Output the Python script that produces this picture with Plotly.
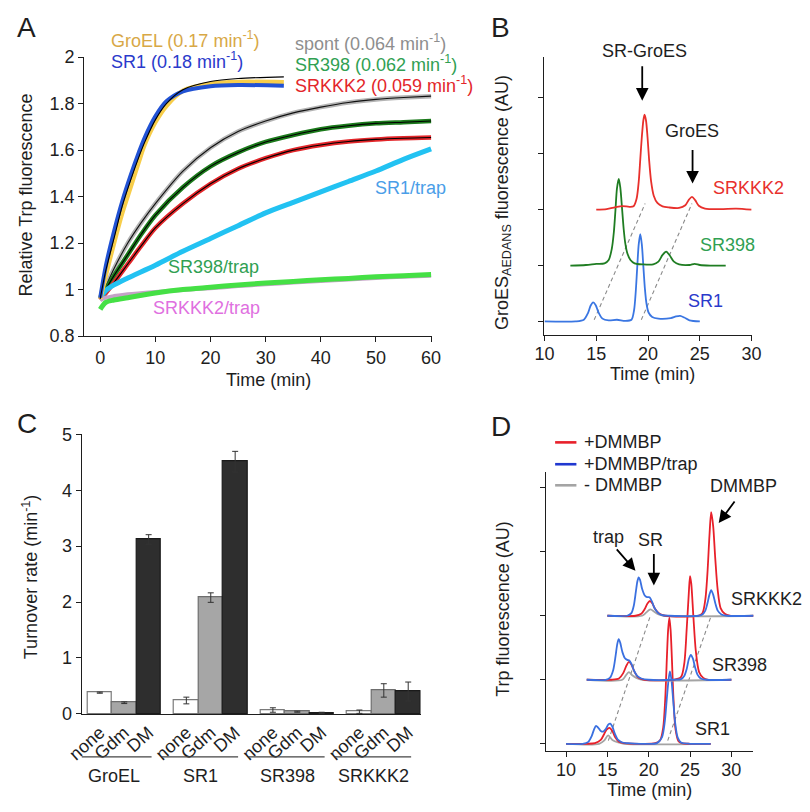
import numpy as np
import plotly.graph_objects as go

W, H = 810, 812
FONT = "Liberation Sans, Arial, sans-serif"
FS = 18


def px(x):
    return x / W


def py(y):
    return 1 - y / H


# ---------------- Panel A data ----------------
T_FAST = [0, 1, 2.5, 4, 5.5, 7, 8, 10, 12, 15, 20, 25, 33.3]
GROEL = [0.96, 1.06, 1.20, 1.33, 1.44, 1.55, 1.62, 1.72, 1.79, 1.855, 1.885, 1.893, 1.892]
SR1 = [0.965, 1.10, 1.25, 1.38, 1.49, 1.59, 1.65, 1.745, 1.81, 1.853, 1.875, 1.88, 1.877]
FIT_FAST = [0.96, 1.08, 1.22, 1.36, 1.47, 1.57, 1.63, 1.73, 1.80, 1.86, 1.895, 1.908, 1.915]

T_SLOW = [0, 2.5, 5, 7.5, 10, 15, 20, 25, 30, 35, 40, 45, 50, 55, 60]
SPONT = [0.96, 1.09, 1.20, 1.29, 1.37, 1.51, 1.61, 1.68, 1.725, 1.76, 1.785, 1.805, 1.818, 1.826, 1.832]
SR398 = [0.96, 1.06, 1.15, 1.24, 1.32, 1.44, 1.53, 1.59, 1.635, 1.665, 1.69, 1.705, 1.715, 1.72, 1.725]
SRKKK2 = [0.955, 1.03, 1.11, 1.19, 1.265, 1.37, 1.455, 1.52, 1.565, 1.60, 1.622, 1.637, 1.646, 1.651, 1.654]

T_TRAP = [0, 1, 2.5, 5, 10, 15, 20, 25, 30, 35, 40, 45, 50, 55, 60]
SR1_TRAP = [0.965, 0.995, 1.02, 1.05, 1.105, 1.165, 1.22, 1.275, 1.33, 1.375, 1.42, 1.465, 1.51, 1.56, 1.605]
SR398_TRAP = [0.915, 0.945, 0.955, 0.965, 0.985, 1.0, 1.01, 1.02, 1.028, 1.035, 1.042, 1.048, 1.055, 1.06, 1.065]
SRKKK2_TRAP = [0.955, 0.965, 0.972, 0.98, 0.99, 0.998, 1.006, 1.015, 1.023, 1.03, 1.037, 1.043, 1.05, 1.055, 1.06]

A_YTICKS = [0.8, 1.0, 1.2, 1.4, 1.6, 1.8, 2.0]
A_YTICKTEXT = ["0.8", "1", "1.2", "1.4", "1.6", "1.8", "2"]
A_XTICKS = [0, 10, 20, 30, 40, 50, 60]

# ---------------- Panel B data (GroES-AEDANS chromatograms) ----------------
B_SR1_T = [10, 13.0, 13.8, 14.2, 14.45, 14.7, 14.95, 15.2, 15.6, 16.2, 17.0, 17.8, 18.4, 18.65, 18.8, 18.95,
           19.1, 19.25, 19.4, 19.55, 19.7, 19.85, 20.05, 20.4, 21.0, 22.2, 22.7, 23.1, 23.5, 24.0, 25.0]
B_SR1_Y = [0, 0, 0.03, 0.15, 0.28, 0.34, 0.29, 0.17, 0.05, 0.02, 0.03, 0.01, 0.03, 0.2, 0.5, 0.95,
           1.38, 1.56, 1.38, 0.98, 0.58, 0.32, 0.16, 0.08, 0.05, 0.06, 0.09, 0.10, 0.07, 0.02, 0]
B_SR398_T = [12.5, 14, 15, 15.8, 16.2, 16.5, 16.7, 16.85, 17.0, 17.17, 17.32, 17.5, 17.65, 17.8, 18.0, 18.3,
             18.7, 19.5, 20.5, 21.0, 21.4, 21.75, 22.1, 22.5, 23.0, 24.0, 24.5, 25.0, 26, 27.5]
B_SR398_Y = [0, 0.01, 0.03, 0.04, 0.1, 0.3, 0.6, 0.98, 1.38, 1.55, 1.4, 1.0, 0.65, 0.4, 0.22, 0.1,
             0.04, 0.02, 0.02, 0.07, 0.19, 0.25, 0.18, 0.07, 0.02, 0.01, 0.03, 0.01, 0, 0]
B_SRKKK2_T = [15, 16, 16.8, 17.5, 18.2, 18.6, 18.9, 19.1, 19.25, 19.4, 19.55, 19.66, 19.8, 19.95, 20.1, 20.3,
              20.55, 20.9, 21.4, 22, 23, 23.6, 23.95, 24.24, 24.55, 24.9, 25.5, 27, 28.5, 30]
B_SRKKK2_Y = [0, 0.01, 0.04, 0.065, 0.05, 0.06, 0.2, 0.5, 0.9, 1.3, 1.6, 1.70, 1.6, 1.3, 0.9, 0.5,
              0.25, 0.12, 0.06, 0.04, 0.03, 0.08, 0.18, 0.23, 0.17, 0.07, 0.02, 0.01, 0.02, 0]
B_GUIDE_Y = [0.03, 2.11]
B_GUIDE1_T = [14.8, 19.72]
B_GUIDE2_T = [19.35, 24.24]
B_XTICKS = [10, 15, 20, 25, 30]

# ---------------- Panel C data ----------------
GROUPS = ["GroEL", "SR1", "SR398", "SRKKK2"]
CONDITIONS = ["none", "Gdm", "DM"]
RATE_NONE = [0.38, 0.24, 0.07, 0.04]
ERR_NONE = [0.01, 0.06, 0.04, 0.03]
RATE_GDM = [0.20, 2.08, 0.04, 0.42]
ERR_GDM = [0.015, 0.085, 0.01, 0.12]
RATE_DM = [3.12, 4.51, 0.02, 0.40]
ERR_DM = [0.085, 0.185, 0.01, 0.17]
C_YTICKS = [0, 1, 2, 3, 4, 5]

# ---------------- Panel D data (Trp chromatograms) ----------------
D_SR1_RED_T = [10, 12.5, 13.5, 14.2, 14.6, 14.9, 15.25, 15.6, 15.95, 16.4, 17, 19, 20.8, 21.4, 21.75, 22.0,
               22.2, 22.35, 22.5, 22.65, 22.8, 23.0, 23.25, 23.6, 24.0, 25, 27.5]
D_SR1_RED_Y = [0, 0, 0.01, 0.06, 0.15, 0.22, 0.25, 0.2, 0.1, 0.03, 0.01, 0, 0.01, 0.06, 0.25, 0.7,
               1.35, 1.78, 1.97, 1.78, 1.35, 0.7, 0.22, 0.04, 0.01, 0, 0]
D_SR1_BLUE_T = [10, 12, 12.7, 13.1, 13.4, 13.63, 13.9, 14.2, 14.5, 14.8, 15.1, 15.35, 15.6, 15.9, 16.3, 16.8,
                17.5, 19, 21, 21.6, 21.95, 22.2, 22.4, 22.57, 22.75, 22.95, 23.2, 23.5, 23.9, 25, 27.5]
D_SR1_BLUE_Y = [0, 0, 0.03, 0.12, 0.23, 0.28, 0.25, 0.2, 0.19, 0.23, 0.3, 0.315, 0.27, 0.16, 0.06, 0.02,
                0.01, 0, 0.01, 0.1, 0.35, 0.72, 1.0, 1.13, 1.0, 0.7, 0.33, 0.1, 0.02, 0, 0]
D_SR1_GRAY_T = [10, 14.0, 14.6, 15.1, 15.6, 16.3, 17, 27.5]
D_SR1_GRAY_Y = [0, 0, 0.05, 0.13, 0.06, 0.02, 0, 0]

D_SR398_RED_T = [12.5, 15.5, 16.4, 16.9, 17.3, 17.6, 17.9, 18.3, 18.8, 19.5, 23.0, 23.9, 24.3, 24.6, 24.85,
                 25.0, 25.15, 25.4, 25.7, 26.1, 26.6, 27.2, 30]
D_SR398_RED_Y = [0, 0, 0.02, 0.1, 0.22, 0.28, 0.24, 0.12, 0.03, 0, 0, 0.04, 0.25, 0.8, 1.35,
                 1.62, 1.5, 1.0, 0.45, 0.12, 0.03, 0, 0]
D_SR398_BLUE_T = [12.5, 14.8, 15.3, 15.7, 16.0, 16.2, 16.37, 16.55, 16.8, 17.1, 17.4, 17.65, 17.9, 18.2, 18.6,
                  19.1, 20, 23, 23.9, 24.3, 24.6, 24.85, 25.1, 25.35, 25.6, 25.9, 26.3, 27, 30]
D_SR398_BLUE_Y = [0, 0, 0.03, 0.15, 0.38, 0.56, 0.635, 0.58, 0.44, 0.34, 0.31, 0.3, 0.25, 0.15, 0.06,
                  0.02, 0, 0, 0.01, 0.06, 0.17, 0.32, 0.39, 0.33, 0.2, 0.08, 0.02, 0, 0]
D_SR398_GRAY_T = [12.5, 16.8, 17.2, 17.6, 18.0, 18.5, 19.2, 30]
D_SR398_GRAY_Y = [0, 0, 0.06, 0.12, 0.07, 0.03, 0, 0]

D_SRKKK2_RED_T = [15, 18.4, 19.1, 19.5, 19.85, 20.15, 20.45, 20.8, 21.3, 22, 26.0, 26.5, 26.85, 27.1, 27.35,
                  27.56, 27.8, 28.05, 28.35, 28.7, 29.2, 29.8, 32.8]
D_SRKKK2_RED_Y = [0, 0, 0.03, 0.1, 0.19, 0.23, 0.19, 0.1, 0.03, 0, 0, 0.04, 0.25, 0.65, 1.25,
                  1.62, 1.4, 0.9, 0.4, 0.12, 0.03, 0, 0]
D_SRKKK2_BLUE_T = [15, 17.4, 17.9, 18.2, 18.45, 18.62, 18.78, 18.95, 19.2, 19.5, 19.8, 20.1, 20.4, 20.7, 21.1,
                   21.6, 22.5, 26.0, 26.5, 26.85, 27.1, 27.35, 27.56, 27.8, 28.05, 28.35, 28.8, 29.5, 32.8]
D_SRKKK2_BLUE_Y = [0, 0, 0.04, 0.16, 0.38, 0.53, 0.60, 0.56, 0.42, 0.32, 0.29, 0.29, 0.22, 0.12, 0.05,
                   0.01, 0, 0, 0.02, 0.08, 0.19, 0.33, 0.40, 0.33, 0.2, 0.08, 0.02, 0, 0]
D_SRKKK2_GRAY_T = [15, 19.2, 19.7, 20.2, 20.7, 21.2, 21.8, 32.8]
D_SRKKK2_GRAY_Y = [0, 0, 0.05, 0.1, 0.06, 0.02, 0, 0]
D_GUIDE_Y = [0.05, 2.0]
D_GUIDE1_T = [15.12, 20.2]
D_GUIDE2_T = [22.3, 27.56]
D_XTICKS = [10, 15, 20, 25, 30]

# ---------------- colours ----------------
C_GOLD, C_GOLD_TXT = "#f7cd4a", "#d8a846"
C_BLUE, C_BLUE_TXT = "#2152d4", "#2a3acb"
C_GRAY, C_GRAY_TXT = "#b4b4b4", "#8e8e8e"
C_DKGREEN, C_GREEN_TXT = "#1b7a1b", "#30a052"
C_RED = "#e3262a"
C_CYAN, C_CYAN_TXT = "#22c2f2", "#4a9ee8"
C_LTGREEN = "#45e045"
C_PINK, C_PINK_TXT = "#c6a2c8", "#e070e0"
B_BLUE, B_GREEN, B_RED = "#3a76e2", "#1f7d22", "#e8302c"
D_RED, D_BLUE, D_GRAY = "#e8202a", "#3a70e0", "#a4a4a4"
INK = "#1e1e1e"

fig = go.Figure()


def line(x, y, color, width, xa, ya, dash=None, shape="spline"):
    fig.add_trace(go.Scatter(x=x, y=y, mode="lines", xaxis=xa, yaxis=ya, showlegend=False, hoverinfo="skip",
                             line=dict(color=color, width=width, dash=dash, shape=shape, smoothing=0.8)))


# Panel A traces
line(T_SLOW, SPONT, C_GRAY, 4.5, "x", "y")
line(T_SLOW, SPONT, "#111111", 1.1, "x", "y")
line(T_SLOW, SR398, C_DKGREEN, 4.5, "x", "y")
line(T_SLOW, SR398, "#000000", 1.1, "x", "y")
line(T_SLOW, SRKKK2, C_RED, 4.5, "x", "y")
line(T_SLOW, SRKKK2, "#000000", 1.1, "x", "y")
line(T_TRAP, SR1_TRAP, C_CYAN, 5, "x", "y")
line(T_TRAP, SRKKK2_TRAP, C_PINK, 4, "x", "y")
line(T_TRAP, SR398_TRAP, C_LTGREEN, 5, "x", "y")
line(T_FAST, GROEL, C_GOLD, 4.5, "x", "y")
line(T_FAST, SR1, C_BLUE, 4, "x", "y")
line(T_FAST, FIT_FAST, "#000000", 1.1, "x", "y")

# Panel B traces
line(B_GUIDE1_T, B_GUIDE_Y, "#8a8a8a", 1.1, "x2", "y2", dash="4px,3px", shape="linear")
line(B_GUIDE2_T, B_GUIDE_Y, "#8a8a8a", 1.1, "x2", "y2", dash="4px,3px", shape="linear")
line(B_SR1_T, list(np.array(B_SR1_Y) + 0), B_BLUE, 1.8, "x2", "y2")
line(B_SR398_T, list(np.array(B_SR398_Y) + 1), B_GREEN, 1.8, "x2", "y2")
line(B_SRKKK2_T, list(np.array(B_SRKKK2_Y) + 2), B_RED, 1.8, "x2", "y2")

# Panel C bars
strideC, padC = 3.545, 0.238
lefts = [padC + g * strideC for g in range(len(GROUPS))]
for b, (vals, errs, fill, edge) in enumerate([
    (RATE_NONE, ERR_NONE, "#ffffff", "#7a7a7a"),
    (RATE_GDM, ERR_GDM, "#a6a6a6", "#6e6e6e"),
    (RATE_DM, ERR_DM, "#2e2e2e", "#1a1a1a"),
]):
    fig.add_trace(go.Bar(x=[l + b + 0.5 for l in lefts], y=vals, width=1.0, xaxis="x3", yaxis="y3",
                         showlegend=False, hoverinfo="skip",
                         marker=dict(color=fill, line=dict(color=edge, width=1.2)),
                         error_y=dict(type="data", array=errs, color="#333333", thickness=1, width=3)))
c_tickvals = [l + b + 0.5 for l in lefts for b in range(3)]
c_ticktext = [c for _ in GROUPS for c in CONDITIONS]

# Panel D traces
line(D_GUIDE1_T, D_GUIDE_Y, "#8a8a8a", 1.1, "x4", "y4", dash="4px,3px", shape="linear")
line(D_GUIDE2_T, D_GUIDE_Y, "#8a8a8a", 1.1, "x4", "y4", dash="4px,3px", shape="linear")
for off, (gt, gy, rt, ry, bt, by) in enumerate([
    (D_SR1_GRAY_T, D_SR1_GRAY_Y, D_SR1_RED_T, D_SR1_RED_Y, D_SR1_BLUE_T, D_SR1_BLUE_Y),
    (D_SR398_GRAY_T, D_SR398_GRAY_Y, D_SR398_RED_T, D_SR398_RED_Y, D_SR398_BLUE_T, D_SR398_BLUE_Y),
    (D_SRKKK2_GRAY_T, D_SRKKK2_GRAY_Y, D_SRKKK2_RED_T, D_SRKKK2_RED_Y, D_SRKKK2_BLUE_T, D_SRKKK2_BLUE_Y),
]):
    line(gt, list(np.array(gy) + off), D_GRAY, 1.8, "x4", "y4")
    line(rt, list(np.array(ry) + off), D_RED, 1.8, "x4", "y4")
    line(bt, list(np.array(by) + off), D_BLUE, 1.8, "x4", "y4")

# ---------------- axes ----------------
base_axis = dict(showgrid=False, zeroline=False, showline=True, linecolor=INK, linewidth=1.4,
                 ticks="outside", ticklen=5, tickwidth=1.2, tickcolor=INK,
                 tickfont=dict(family=FONT, size=FS, color=INK), fixedrange=True)

fig.update_layout(
    width=W, height=H, margin=dict(l=0, r=0, t=0, b=0),
    paper_bgcolor="white", plot_bgcolor="white",
    font=dict(family=FONT, size=FS, color=INK),
    bargap=0,
    xaxis=dict(base_axis, domain=[px(70.7), px(430)], range=[-2.86, 60.2], tickvals=A_XTICKS, anchor="y"),
    yaxis=dict(base_axis, domain=[py(334.3), py(48.3)], range=[0.8, 2.0], tickvals=A_YTICKS,
               ticktext=A_YTICKTEXT, anchor="x"),
    xaxis2=dict(base_axis, domain=[px(546), px(760)], range=[10, 30], tickvals=B_XTICKS, anchor="y2",
                ticklabelstandoff=-3),
    yaxis2=dict(base_axis, domain=[py(333), py(48)], range=[-0.239, 4.735], tickvals=[0, 1, 2, 3, 4],
                showticklabels=False, anchor="x2"),
    xaxis3=dict(base_axis, domain=[px(68), px(418)], range=[0, 13.88], tickvals=c_tickvals,
                ticktext=c_ticktext, ticks="", tickangle=-42, anchor="y3"),
    yaxis3=dict(base_axis, domain=[py(721.7), py(435)], range=[0, 5], tickvals=C_YTICKS, anchor="x3"),
    xaxis4=dict(base_axis, domain=[px(547.3), px(761.7)], range=[7.54, 32.65], tickvals=D_XTICKS, anchor="y4",
                ticklabelstandoff=-3),
    yaxis4=dict(base_axis, domain=[py(760), py(474)], range=[-0.117, 4.24], tickvals=[0, 1, 2, 3, 4],
                showticklabels=False, anchor="x4"),
)

ann = []


def text(x, y, s, color=INK, size=FS, xanchor="center", angle=0):
    ann.append(dict(x=px(x), y=py(y), xref="paper", yref="paper", text=s, showarrow=False,
                    xanchor=xanchor, yanchor="middle", textangle=angle, borderpad=0,
                    font=dict(family=FONT, size=size, color=color)))


def arrow(x0, y0, x1, y1):
    ann.append(dict(x=px(x1), y=py(y1), xref="paper", yref="paper", ax=x0 - x1, ay=y0 - y1,
                    axref="pixel", ayref="pixel", text="", showarrow=True, arrowhead=2,
                    arrowsize=1.4, arrowwidth=1.8, arrowcolor="#000000"))


# panel letters
text(11, 18, "A", size=28)
text(501, 18, "B", size=28)
text(11, 424, "C", size=28)
text(501, 427, "D", size=28)

# Panel A labels
text(97, 30, "GroEL (0.17 min<sup>-1</sup>)", C_GOLD_TXT, xanchor="left")
text(97, 52, "SR1 (0.18 min<sup>-1</sup>)", C_BLUE_TXT, xanchor="left")
text(287, 33, "spont (0.064 min<sup>-1</sup>)", C_GRAY_TXT, xanchor="left")
text(287, 55, "SR398 (0.062 min<sup>-1</sup>)", C_GREEN_TXT, xanchor="left")
text(287, 76, "SRKKK2 (0.059 min<sup>-1</sup>)", C_RED, xanchor="left")
text(370, 182, "SR1/trap", C_CYAN_TXT, xanchor="left")
text(156, 263, "SR398/trap", C_GREEN_TXT, xanchor="left")
text(140, 306, "SRKKK2/trap", C_PINK_TXT, xanchor="left")
text(10.5, 190, "Relative Trp fluorescence", angle=-90)
text(261, 379, "Time (min)")

# Panel B labels
text(649, 42, "SR-GroES")
arrow(647, 57, 647, 93)
text(698, 124, "GroES")
arrow(699, 143, 699, 178)
text(757, 183, "SRKKK2", B_RED)
text(735, 241, "SR398", C_GREEN_TXT)
text(712, 298, "SR1", C_BLUE_TXT)
text(503, 197, "GroES<sub>AEDANS</sub> fluorescence (AU)", angle=-90)
text(658, 373, "Time (min)")

# Panel C labels
text(15, 581, "Turnover rate (min<sup>-1</sup>)", angle=-90)
shapes = []
for g, name in enumerate(GROUPS):
    shapes.append(dict(type="line", xref="x3", yref="paper", x0=lefts[g] - 0.5, x1=lefts[g] + 2.62,
                       y0=py(765.7), y1=py(765.7), line=dict(color="#444444", width=1.2)))
    ann.append(dict(x=lefts[g] + 1.08, y=py(785), xref="x3", yref="paper", text=name, showarrow=False,
                    xanchor="center", yanchor="middle", borderpad=0,
                    font=dict(family=FONT, size=FS, color=INK)))

# Panel D labels
for yy, col, lab in [(443.3, D_RED, "+DMMBP"), (465.7, "#2038d0", "+DMMBP/trap"), (487.3, D_GRAY, "- DMMBP")]:
    shapes.append(dict(type="line", xref="paper", yref="paper", x0=px(557), x1=px(579), y0=py(yy), y1=py(yy),
                       line=dict(color=col, width=2.6)))
    text(586, yy, lab, xanchor="left")
text(751.5, 488, "DMMBP")
arrow(743, 503, 726, 526)
text(612, 540, "trap")
arrow(620, 552, 640, 575)
text(656, 543, "SR")
arrow(659, 557, 659, 590)
text(775, 604, "SRKKK2")
text(748, 672, "SR398")
text(720, 737, "SR1")
text(503, 614, "Trp fluorescence (AU)", angle=-90)
text(655, 800, "Time (min)")

fig.update_layout(annotations=ann, shapes=shapes)

fig.write_html("out.html", config={"displayModeBar": False},
               post_script="document.body.style.margin='0';document.body.style.overflow='hidden';")
